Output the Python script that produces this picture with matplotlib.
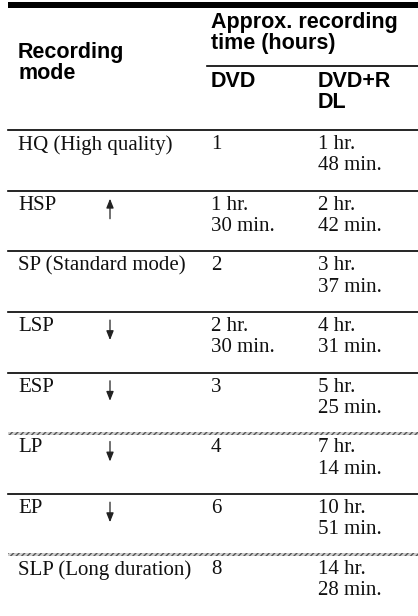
import matplotlib
matplotlib.use("Agg")
import matplotlib.pyplot as plt
from matplotlib.patches import Rectangle

# table content
modes = ["HQ (High quality)", "HSP", "SP (Standard mode)", "LSP", "ESP",
         "LP", "EP", "SLP (Long duration)"]
arrows = [None, "up", None, "down", "down", "down", "down", None]
dvd_times = ["1", "1 hr.\n30 min.", "2", "2 hr.\n30 min.", "3", "4", "6", "8"]
dl_times = ["1 hr.\n48 min.", "2 hr.\n42 min.", "3 hr.\n37 min.", "4 hr.\n31 min.",
            "5 hr.\n25 min.", "7 hr.\n14 min.", "10 hr.\n51 min.", "14 hr.\n28 min."]
hatched_above = ["LP", "SLP (Long duration)"]

W, H = 418, 616
fig = plt.figure(figsize=(W / 100, H / 100), dpi=100)
ax = fig.add_axes([0, 0, 1, 1])
ax.set_xlim(0, W)
ax.set_ylim(H, 0)
ax.axis("off")

serif = "Liberation Serif"
sans = "Liberation Sans"
x0, x_arrow, x_dvd, x_dl = 18, 110, 211, 318
left = 8
head_line = 130
row_h = 60.7
hfs = 15.5   # header font size
bfs = 15     # body font size

# top bar and header
ax.add_patch(Rectangle((left, 2), W - left, 6, color="black", lw=0))
ax.text(x0, 42, "Recording\nmode", family=sans, weight="bold", fontsize=hfs,
        va="top", ha="left", linespacing=1.02)
ax.text(x_dvd, 12, "Approx. recording\ntime (hours)", family=sans, weight="bold",
        fontsize=hfs, va="top", ha="left", linespacing=1.02)
ax.plot([207, W], [66, 66], color="black", lw=1.2)
ax.text(x_dvd, 71, "DVD", family=sans, weight="bold", fontsize=hfs, va="top")
ax.text(x_dl, 71, "DVD+R\nDL", family=sans, weight="bold", fontsize=hfs,
        va="top", linespacing=1.02)

arrow_style = dict(arrowstyle="-|>,head_length=0.55,head_width=0.22",
                   color="#222222", lw=0.9, shrinkA=0, shrinkB=0)

for i, mode in enumerate(modes):
    top = head_line + i * row_h
    if mode in hatched_above:
        ax.add_patch(Rectangle((left, top - 1.5), W - left, 3, facecolor="#cfcfcf",
                               edgecolor="#555555", hatch="//////", lw=0))
    else:
        ax.plot([left, W], [top, top], color="black", lw=1.2)
    ty = top + 5
    ax.text(x0, ty, mode, family=serif, fontsize=bfs, va="top", color="#111111")
    ax.text(x_dvd, ty, dvd_times[i], family=serif, fontsize=bfs, va="top",
            linespacing=1.15, color="#111111")
    ax.text(x_dl, ty, dl_times[i], family=serif, fontsize=bfs, va="top",
            linespacing=1.15, color="#111111")
    if arrows[i] == "up":
        ax.annotate("", xy=(x_arrow, top + 8), xytext=(x_arrow, top + 28),
                    arrowprops=arrow_style)
    elif arrows[i] == "down":
        ax.annotate("", xy=(x_arrow, top + 28), xytext=(x_arrow, top + 8),
                    arrowprops=arrow_style)

fig.savefig("out.png", dpi=100)
